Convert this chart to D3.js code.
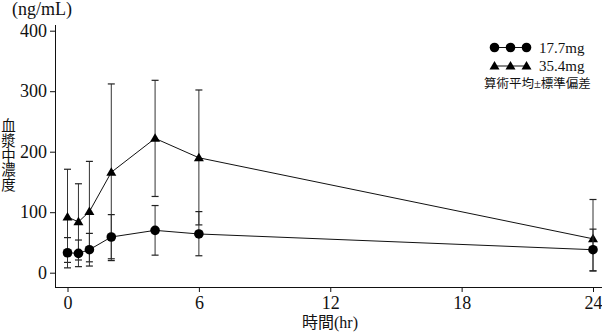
<!DOCTYPE html>
<html><head><meta charset="utf-8">
<script src="https://cdn.jsdelivr.net/npm/d3@7"></script>
<style>
html,body{margin:0;padding:0;background:#fff;}
text{font-family:"Liberation Serif","Noto Sans CJK JP",serif;fill:#111;}
</style></head>
<body><svg id="c" width="602" height="332"></svg>
<script>
const times = [0, 0.5, 1, 2, 4, 6, 24];
const xTicks = [0, 6, 12, 18, 24];
const yTicks = [0, 100, 200, 300, 400];
const lowMean  = [33, 32, 38, 59, 70, 64, 38];
const lowUpper = [58, 54, 65, 96, 111, 101, 72];
const lowLower = [8, 10, 11, 23, 29, 28, 3];
const highMean  = [92, 84, 101, 166, 222, 190, 56];
const highUpper = [171, 147, 184, 312, 318, 302, 121];
const highLower = [17, 21, 18, 20, 126, 79, 3];
const seriesNames = ["17.7mg", "35.4mg"];
const legendNote = "算術平均±標準偏差";
const yUnit = "(ng/mL)";
const yTitle = "血漿中濃度";
const xTitle = "時間(hr)";

const svg = d3.select("#c");
const x = d3.scaleLinear().domain([0, 24]).range([67.5, 593]);
const y = d3.scaleLinear().domain([0, 400]).range([272.7, 30.7]);

// axes
const yAxis = svg.append("g").attr("transform", "translate(55,0)")
  .call(d3.axisLeft(y).tickValues(yTicks).tickSize(5).tickPadding(3));
yAxis.select(".domain").remove();
svg.append("line").attr("x1", 55.5).attr("x2", 55.5).attr("y1", 25).attr("y2", 287.5).attr("stroke", "#111");
const xAxis = svg.append("g").attr("transform", "translate(0,287)")
  .call(d3.axisBottom(x).tickValues(xTicks).tickSize(5).tickPadding(4));
xAxis.select(".domain").remove();
svg.append("line").attr("x1", 55).attr("x2", 602).attr("y1", 287.5).attr("y2", 287.5).attr("stroke", "#111");
svg.selectAll(".tick line").attr("stroke", "#111");
svg.selectAll(".tick text").style("font-family", "'Liberation Serif',serif").style("font-size", "18px").attr("fill", "#111");

// titles
svg.append("text").attr("x", 12).attr("y", 15).style("font-size", "18px").text(yUnit);
const yt = svg.append("text").style("font-size", "14.5px").attr("text-anchor", "middle");
yTitle.split("").forEach((ch, i) => {
  yt.append("tspan").attr("x", 8.5).attr("y", 131 + i * 14.8).text(ch);
});
svg.append("text").attr("x", 330).attr("y", 328).attr("text-anchor", "middle").style("font-size", "16px").text(xTitle);

// data
function drawSeries(mean, upper, lower, kind) {
  const g = svg.append("g");
  times.forEach((t, i) => {
    const cx = x(t);
    g.append("line").attr("x1", cx).attr("x2", cx).attr("y1", y(upper[i])).attr("y2", y(lower[i])).attr("stroke", "#333").attr("stroke-width", 1);
    [upper[i], lower[i]].forEach(v => {
      g.append("line").attr("x1", cx - 3.5).attr("x2", cx + 3.5).attr("y1", y(v)).attr("y2", y(v)).attr("stroke", "#222").attr("stroke-width", 1.2);
    });
  });
  const line = d3.line().x((d, i) => x(times[i])).y(d => y(d));
  g.append("path").attr("d", line(mean)).attr("fill", "none").attr("stroke", "#111").attr("stroke-width", 1);
  mean.forEach((v, i) => marker(g, x(times[i]), y(v), kind));
}
function marker(g, cx, cy, kind) {
  if (kind === "circle") {
    g.append("circle").attr("cx", cx).attr("cy", cy).attr("r", 4.8).attr("fill", "#000");
  } else {
    const s = 10, h = 8.5;
    g.append("path").attr("d", `M${cx},${cy - h * 0.6}L${cx + s / 2},${cy + h * 0.4}L${cx - s / 2},${cy + h * 0.4}Z`).attr("fill", "#000");
  }
}
drawSeries(highMean, highUpper, highLower, "triangle");
drawSeries(lowMean, lowUpper, lowLower, "circle");

// legend
const lg = svg.append("g");
const legendRows = [{name: seriesNames[0], kind: "circle", y: 47.5}, {name: seriesNames[1], kind: "triangle", y: 66}];
legendRows.forEach(r => {
  lg.append("line").attr("x1", 494.5).attr("x2", 526.5).attr("y1", r.y).attr("y2", r.y).attr("stroke", "#111");
  [494.5, 510.5, 526.5].forEach(cx => marker(lg, cx, r.y, r.kind));
  lg.append("text").attr("x", 539).attr("y", r.y + 5).style("font-size", "15px").text(r.name);
});
lg.append("text").attr("x", 484).attr("y", 88).style("font-size", "12.5px").text(legendNote);
</script></body></html>
